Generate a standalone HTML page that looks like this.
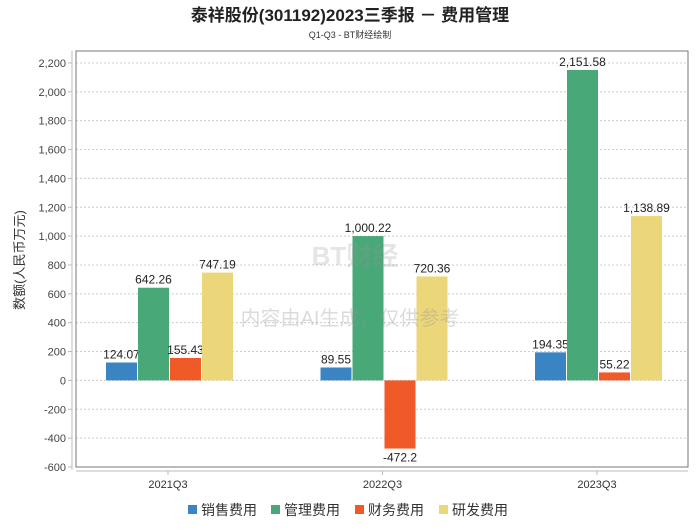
<!DOCTYPE html>
<html><head><meta charset="utf-8"><style>
body{margin:0;background:#fff;font-family:"Liberation Sans","Noto Sans CJK SC",sans-serif;}
svg text{font-family:"Liberation Sans","Noto Sans CJK SC",sans-serif;}
</style></head><body>
<svg id="c" width="700" height="524" xmlns="http://www.w3.org/2000/svg">
<text x="350" y="21" text-anchor="middle" font-size="17" font-weight="bold" fill="#222">泰祥股份(301192)2023三季报 － 费用管理</text>
<text x="350" y="38" text-anchor="middle" font-size="9" fill="#333">Q1-Q3 - BT财经绘制</text>
<text transform="translate(24,260) rotate(-90)" text-anchor="middle" font-size="13" fill="#333">数额(人民币万元)</text>
<g id="grid"></g>
<rect x="76" y="51" width="612" height="416" fill="none" stroke="#777" stroke-width="1"/>
<line x1="72" y1="51" x2="72" y2="470" stroke="#bbb"/>
<line x1="76" y1="471" x2="688" y2="471" stroke="#bbb"/>
<g id="bars"></g>
<text x="350" y="325" text-anchor="middle" font-size="20" fill="#999" fill-opacity="0.35">内容由AI生成，仅供参考</text>
<text x="355" y="265" text-anchor="middle" font-size="26" font-weight="bold" fill="#999" fill-opacity="0.25">BT财经</text>
<g id="legend"></g>
</svg>
<script>
const categories=["2021Q3","2022Q3","2023Q3"];
const seriesNames=["销售费用","管理费用","财务费用","研发费用"];
const colors=["#3a84c4","#48a878","#f05a28","#ecd67a"];
const sales=[124.07,89.55,194.35];
const admin=[642.26,1000.22,2151.58];
const finance=[155.43,-472.2,55.22];
const rd=[747.19,720.36,1138.89];
const yTicks=[-600,-400,-200,0,200,400,600,800,1000,1200,1400,1600,1800,2000,2200];
const series=[sales,admin,finance,rd];
const NS="http://www.w3.org/2000/svg";
const y=v=>380.4-v*0.14429;
const xc=i=>168+i*214.5;
function mk(t,a,p){const e=document.createElementNS(NS,t);for(const k in a)e.setAttribute(k,a[k]);p.appendChild(e);return e;}
const grid=document.getElementById('grid');
const fmt=v=>v.toLocaleString('en-US');
yTicks.forEach(v=>{
 const l=mk('line',{x1:76,x2:688,y1:y(v),y2:y(v),stroke:'#ccc','stroke-dasharray':'2,2'},grid);
 
 
 const tk=mk('line',{x1:68,x2:72,y1:y(v),y2:y(v),stroke:'#bbb'},grid);
 
 
 const t=mk('text',{x:66,y:y(v)+4,'text-anchor':'end','font-size':11,fill:'#444'},grid);
 t.textContent=fmt(v);
 
 
});
categories.forEach((c,i)=>{
 const tk=mk('line',{x1:xc(i),x2:xc(i),y1:471,y2:475,stroke:'#bbb'},grid);
 
 
 const t=mk('text',{x:xc(i),y:488,'text-anchor':'middle','font-size':11,fill:'#333'},grid);
 t.textContent=c;
 
 
});
const bars=document.getElementById('bars');
const bw=31;
series.forEach((s,j)=>{
 s.forEach((v,i)=>{
  const x=xc(i)-62+j*(bw+1);
  const y0=y(0),y1=y(v);
  const r=mk('rect',{x:x,y:Math.min(y0,y1),width:bw,height:Math.abs(y1-y0),fill:colors[j]},bars);
  
  
  const t=mk('text',{x:x+bw/2,y:v>=0?y1-4:y1+13,'text-anchor':'middle','font-size':12,fill:'#222'},bars);
  t.textContent=v.toLocaleString('en-US',{maximumFractionDigits:2});
  
  
 });
});
const lg=document.getElementById('legend');
const lx=[188,271,355,439];
seriesNames.forEach((n,j)=>{
 const r=mk('rect',{x:lx[j],y:505,width:9,height:9,fill:colors[j]},lg);
 
 
 const t=mk('text',{x:lx[j]+13,y:515,'font-size':14,fill:'#333'},lg);
 t.textContent=n;
 
 
});
</script>
</body></html>
